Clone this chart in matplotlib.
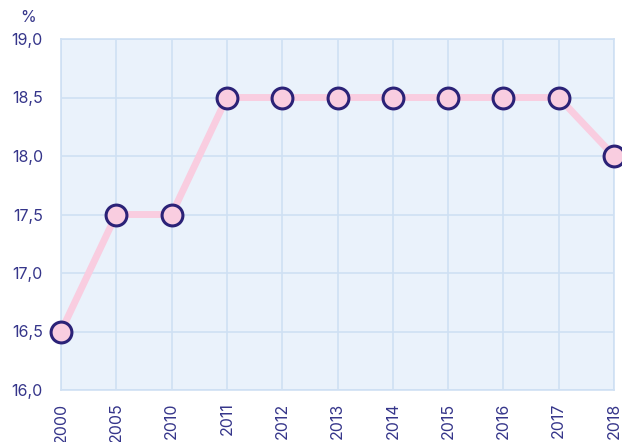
import matplotlib
matplotlib.use("Agg")
import matplotlib.pyplot as plt

years = ["2000", "2005", "2010", "2011", "2012", "2013", "2014", "2015", "2016", "2017", "2018"]
values = [16.5, 17.5, 17.5, 18.5, 18.5, 18.5, 18.5, 18.5, 18.5, 18.5, 18.0]
yticks = [16.0, 16.5, 17.0, 17.5, 18.0, 18.5, 19.0]

text_col = "#35358a"
grid_col = "#cfe0f3"

plt.rcParams['font.family'] = ['Inter', 'DejaVu Sans']

fig = plt.figure(figsize=(6.22, 4.42), dpi=100)
ax = fig.add_axes([61 / 622, 1 - 390 / 442, 553 / 622, 351 / 442])
ax.set_facecolor("#eaf2fb")

x = list(range(len(years)))
ax.plot(x, values, color="#f9cde0", lw=5, zorder=3, solid_capstyle="butt")
ax.plot(x, values, "o", ms=15, mfc="#f9cde0", mec="#2b2277", mew=2.2, zorder=4, clip_on=False)

ax.set_xlim(0, len(years) - 1)
ax.set_ylim(16.0, 19.0)
ax.set_xticks(x)
ax.set_xticklabels(years, rotation=90)
ax.set_yticks(yticks)
ax.set_yticklabels([f"{v:.1f}".replace(".", ",") for v in yticks])

ax.grid(True, color=grid_col, lw=1.2, zorder=0)
ax.set_axisbelow(True)
for s in ax.spines.values():
    s.set_color(grid_col)
    s.set_linewidth(1.2)
ax.tick_params(length=0, labelsize=11.5, colors=text_col)
ax.tick_params(axis="y", pad=13)
ax.tick_params(axis="x", pad=9)

fig.text(28 / 622, 1 - 17 / 442, "%", color=text_col, fontsize=11.5, ha="center", va="center")

fig.savefig("out.png", dpi=100)
